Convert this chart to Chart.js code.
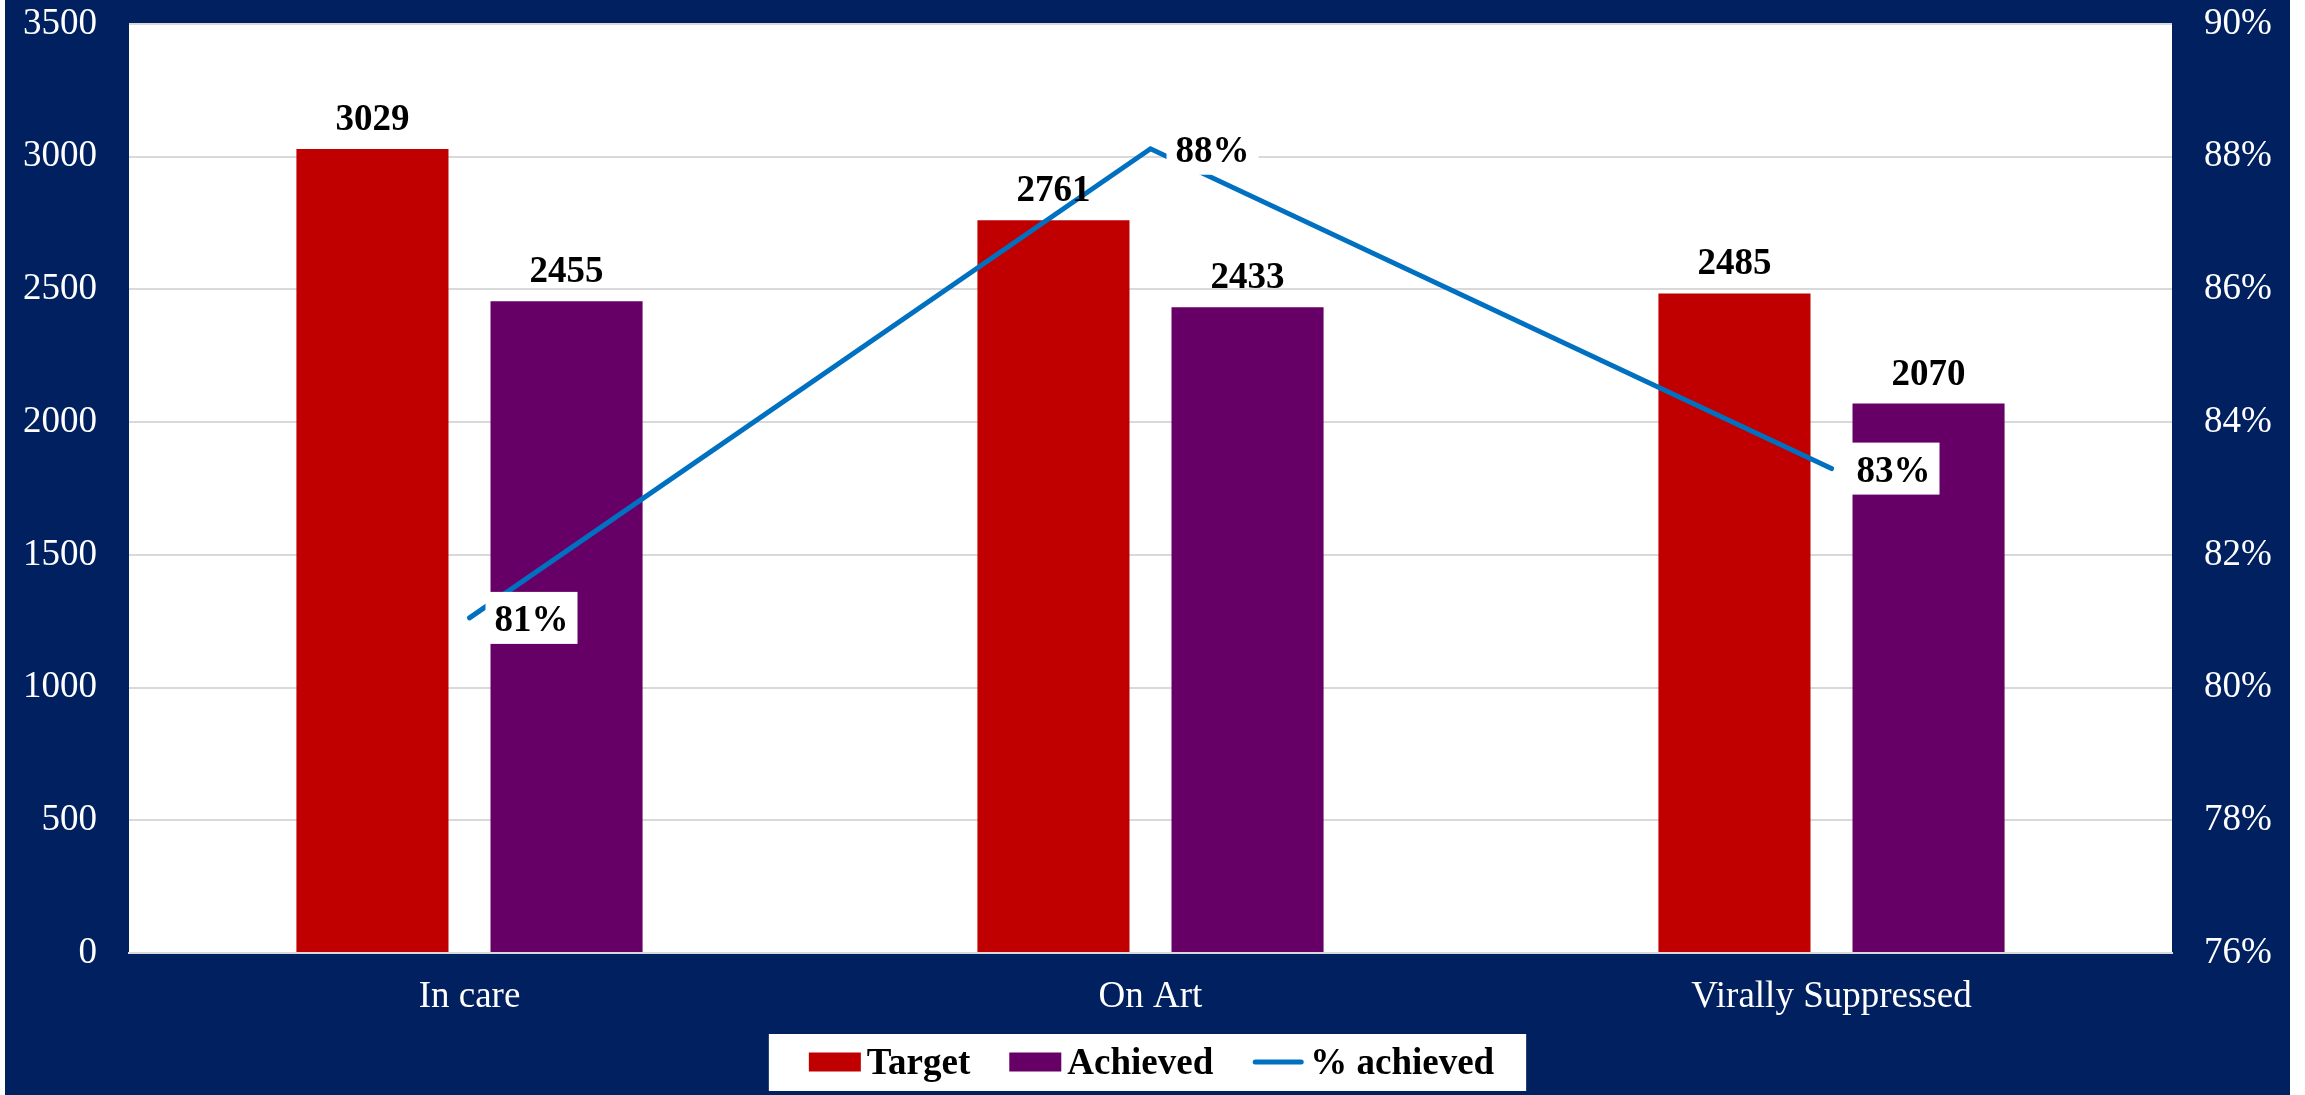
<!DOCTYPE html>
<html>
<head>
<meta charset="utf-8">
<script src="https://cdn.jsdelivr.net/npm/chart.js@4.4.1/dist/chart.umd.min.js"></script>
<style>
  html, body { margin: 0; padding: 0; background: #ffffff; }
  #frame {
    position: absolute;
    left: 5px;
    top: 0;
    width: 2285px;
    height: 1095px;
    background: #002060;
  }
  canvas { display: block; }
</style>
</head>
<body>
<div id="frame">
  <canvas id="chart" width="2285" height="1095"></canvas>
</div>
<script>
// data
const categories = ['In care', 'On Art', 'Virally Suppressed'];
const targetValues = [3029, 2761, 2485];
const achievedValues = [2455, 2433, 2070];
const percentAchieved = [81.05, 88.12, 83.3];
const leftTicks = [0, 500, 1000, 1500, 2000, 2500, 3000, 3500];
const rightTicks = [76, 78, 80, 82, 84, 86, 88, 90];

const FONT = '"Liberation Serif", "Times New Roman", serif';
const RED = '#C00000';
const PURPLE = '#660066';
const BLUE = '#0070C0';
const GRID = '#D9D9D9';

// white plot area behind the grid
const plotBackground = {
  id: 'plotBackground',
  beforeDraw(chart) {
    const { ctx, chartArea } = chart;
    ctx.save();
    ctx.fillStyle = '#ffffff';
    ctx.fillRect(chartArea.left, chartArea.top, chartArea.right - chartArea.left, chartArea.bottom - chartArea.top);
    ctx.restore();
  },
};

// value labels: bold numbers above bars, boxed percentages beside the line
const valueLabels = {
  id: 'valueLabels',
  afterDatasetsDraw(chart) {
    const ctx = chart.ctx;
    ctx.save();
    ctx.font = 'bold 37px ' + FONT;
    ctx.fillStyle = '#000000';
    ctx.textBaseline = 'alphabetic';

    chart.data.datasets.forEach((ds, i) => {
      if (ds.type !== 'bar') return;
      chart.getDatasetMeta(i).data.forEach((bar, j) => {
        ctx.textAlign = 'center';
        ctx.fillText(String(ds.data[j]), bar.x, bar.y - 19);
      });
    });

    chart.data.datasets.forEach((ds, i) => {
      if (ds.type !== 'line') return;
      chart.getDatasetMeta(i).data.forEach((pt, j) => {
        const text = Math.round(ds.data[j]) + '%';
        const w = ctx.measureText(text).width;
        const left = pt.x + 16;
        ctx.fillStyle = '#ffffff';
        ctx.fillRect(left, pt.y - 26, w + 18, 52);
        ctx.fillStyle = '#000000';
        ctx.textAlign = 'left';
        ctx.fillText(text, left + 9, pt.y + 13);
      });
    });
    ctx.restore();
  },
};

// legend in a white box under the axis
const boxLegend = {
  id: 'boxLegend',
  afterDraw(chart) {
    const ctx = chart.ctx;
    const items = [
      { label: 'Target', color: RED, kind: 'box' },
      { label: 'Achieved', color: PURPLE, kind: 'box' },
      { label: '% achieved', color: BLUE, kind: 'line' },
    ];
    ctx.save();
    ctx.font = 'bold 37px ' + FONT;
    const swatch = 52, gapText = 6, gapItem = 39, padL = 40, padR = 32;
    let total = padL + padR;
    items.forEach((it, k) => {
      it.w = ctx.measureText(it.label).width;
      total += swatch + gapText + it.w + (k > 0 ? gapItem : 0);
    });
    const boxLeft = (chart.width - total) / 2;
    const boxTop = 1034;
    const boxH = 57;
    ctx.fillStyle = '#ffffff';
    ctx.fillRect(boxLeft, boxTop, total, boxH);

    const midY = boxTop + 28;
    let x = boxLeft + padL;
    items.forEach((it, k) => {
      if (k > 0) x += gapItem;
      if (it.kind === 'box') {
        ctx.fillStyle = it.color;
        ctx.fillRect(x, midY - 9.5, swatch, 19);
      } else {
        ctx.strokeStyle = it.color;
        ctx.lineWidth = 5;
        ctx.lineCap = 'round';
        ctx.beginPath();
        ctx.moveTo(x + 3, midY);
        ctx.lineTo(x + swatch - 3, midY);
        ctx.stroke();
      }
      x += swatch + gapText;
      ctx.fillStyle = '#000000';
      ctx.textAlign = 'left';
      ctx.textBaseline = 'alphabetic';
      ctx.fillText(it.label, x, midY + 12);
      x += it.w;
    });
    ctx.restore();
  },
};

const ctx = document.getElementById('chart').getContext('2d');

new Chart(ctx, {
  data: {
    labels: categories,
    datasets: [
      {
        type: 'line',
        label: '% achieved',
        data: percentAchieved,
        yAxisID: 'y1',
        borderColor: BLUE,
        backgroundColor: BLUE,
        borderWidth: 5,
        borderCapStyle: 'round',
        borderJoinStyle: 'miter',
        pointRadius: 0,
        tension: 0,
        order: 0,
      },
      {
        type: 'bar',
        label: 'Target',
        data: targetValues,
        yAxisID: 'y',
        backgroundColor: RED,
        barPercentage: 0.7835,
        categoryPercentage: 0.57,
        order: 1,
      },
      {
        type: 'bar',
        label: 'Achieved',
        data: achievedValues,
        yAxisID: 'y',
        backgroundColor: PURPLE,
        barPercentage: 0.7835,
        categoryPercentage: 0.57,
        order: 2,
      },
    ],
  },
  options: {
    responsive: false,
    animation: false,
    devicePixelRatio: 1,
    layout: { padding: { top: 24, bottom: 62, left: 0, right: 0 } },
    plugins: {
      legend: { display: false },
      tooltip: { enabled: false },
    },
    scales: {
      x: {
        grid: { display: false, drawTicks: false },
        border: { display: true, color: GRID, width: 2 },
        ticks: {
          color: '#ffffff',
          font: { family: FONT, size: 37 },
          padding: 22,
          maxRotation: 0,
        },
        afterFit(scale) {
          scale.height = 80;
          scale.paddingLeft = 0;
          scale.paddingRight = 0;
        },
      },
      y: {
        position: 'left',
        min: leftTicks[0],
        max: leftTicks[leftTicks.length - 1],
        afterBuildTicks(scale) { scale.ticks = leftTicks.map((v) => ({ value: v })); },
        grid: { color: GRID, lineWidth: 2, drawTicks: false },
        border: { display: false },
        ticks: {
          color: '#ffffff',
          font: { family: FONT, size: 37 },
          padding: 32,
          callback: (v) => String(v),
        },
        afterFit(scale) {
          scale.width = 124;
          scale.paddingTop = 0;
          scale.paddingBottom = 0;
        },
      },
      y1: {
        position: 'right',
        min: rightTicks[0],
        max: rightTicks[rightTicks.length - 1],
        afterBuildTicks(scale) { scale.ticks = rightTicks.map((v) => ({ value: v })); },
        grid: { drawOnChartArea: false, drawTicks: false },
        border: { display: false },
        ticks: {
          color: '#ffffff',
          font: { family: FONT, size: 37 },
          padding: 32,
          callback: (v) => v + '%',
        },
        afterFit(scale) {
          scale.width = 118;
          scale.paddingTop = 0;
          scale.paddingBottom = 0;
        },
      },
    },
  },
  plugins: [plotBackground, valueLabels, boxLegend],
});
</script>
</body>
</html>
